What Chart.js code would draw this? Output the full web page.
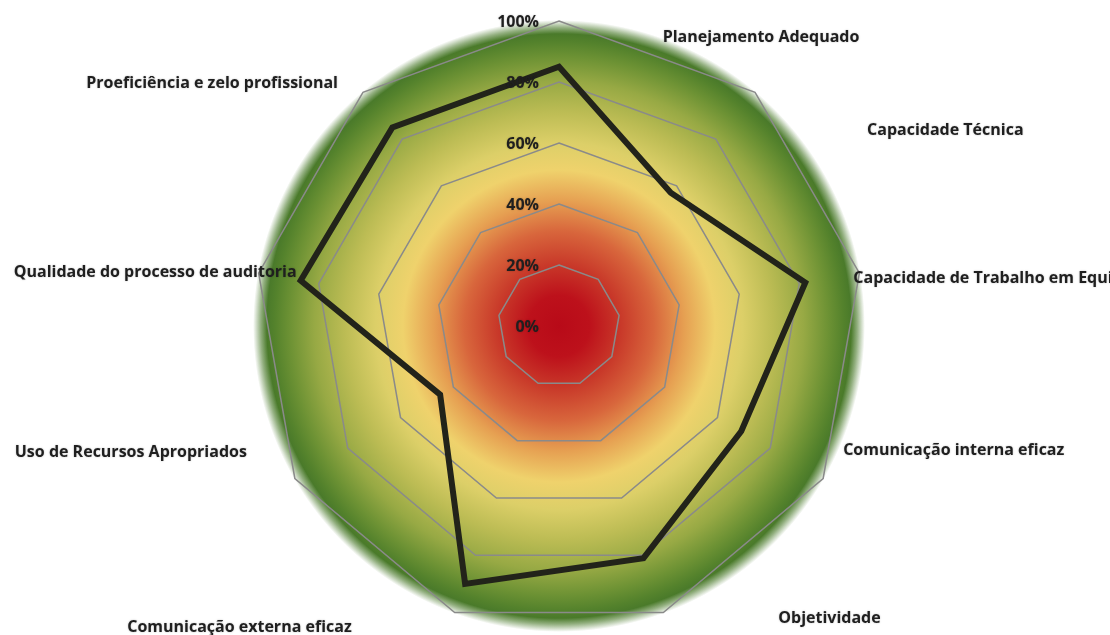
<!DOCTYPE html>
<html>
<head>
<meta charset="utf-8">
<script src="https://cdn.jsdelivr.net/npm/chart.js@4.4.1/dist/chart.umd.min.js"></script>
<style>
  html, body { margin: 0; padding: 0; background: #ffffff; }
  #wrap { width: 1110px; height: 635px; position: relative; overflow: hidden; }
</style>
</head>
<body>
<div id="wrap"><canvas id="radar" width="1110" height="635"></canvas></div>
<script>
// Competências avaliadas (sentido horário a partir do topo)
const categories = [
  'Planejamento Adequado',
  'Capacidade Técnica',
  'Capacidade de Trabalho em Equipe',
  'Comunicação interna eficaz',
  'Objetividade',
  'Comunicação externa eficaz',
  'Uso de Recursos Apropriados',
  'Qualidade do processo de auditoria',
  'Proeficiência e zelo profissional'
];

// Percentual atingido em cada competência
const scores = [85, 57, 82, 69, 81, 90, 45, 86, 85];

// Marcas do eixo radial
const tickValues = [0, 20, 40, 60, 80, 100];
const tickLabels = ['0%', '20%', '40%', '60%', '80%', '100%'];

// Posição de cada rótulo de categoria em relação ao vértice externo da grade
const labelPlacement = [
  { align: 'center', dx: 202, dy: 16 },
  { align: 'left',   dx: 112, dy: 38 },
  { align: 'left',   dx: -6,  dy: 5 },
  { align: 'left',   dx: 20,  dy: -28 },
  { align: 'left',   dx: 115, dy: 6 },
  { align: 'right',  dx: -103, dy: 15 },
  { align: 'right',  dx: -48, dy: -26 },
  { align: 'right',  dx: 38,  dy: -1 },
  { align: 'right',  dx: -25, dy: -9 }
];

const FONT = '"Open Sans", "DejaVu Sans", sans-serif';
const TEXT_COLOR = '#1f1f1f';

// Fundo em degradê radial: vermelho no centro, amarelo no meio, verde na borda
const heatBackdrop = {
  id: 'heatBackdrop',
  beforeDraw(chart) {
    const s = chart.scales.r;
    const ctx = chart.ctx;
    const R = s.drawingArea * 1.003;
    const g = ctx.createRadialGradient(s.xCenter, s.yCenter, 0, s.xCenter, s.yCenter, R);
    g.addColorStop(0.00, '#b80a18');
    g.addColorStop(0.10, '#bd111b');
    g.addColorStop(0.20, '#c83829');
    g.addColorStop(0.31, '#d8663c');
    g.addColorStop(0.41, '#e6a052');
    g.addColorStop(0.51, '#efd26c');
    g.addColorStop(0.60, '#dccf68');
    g.addColorStop(0.70, '#bcbc54');
    g.addColorStop(0.80, '#97a944');
    g.addColorStop(0.88, '#6d9234');
    g.addColorStop(0.93, '#54822c');
    g.addColorStop(0.955, '#4a7a2a');
    g.addColorStop(0.975, 'rgba(74,122,42,0.6)');
    g.addColorStop(1.00, 'rgba(74,122,42,0)');
    ctx.save();
    ctx.fillStyle = g;
    ctx.beginPath();
    ctx.arc(s.xCenter, s.yCenter, R, 0, Math.PI * 2);
    ctx.fill();
    ctx.restore();
  }
};

// Textos do eixo radial e das categorias
const axisText = {
  id: 'axisText',
  afterDatasetsDraw(chart) {
    const s = chart.scales.r;
    const ctx = chart.ctx;
    ctx.save();
    ctx.font = 'bold 16px ' + FONT;
    ctx.fillStyle = TEXT_COLOR;
    ctx.shadowColor = 'rgba(0,0,0,0.25)';
    ctx.shadowBlur = 2;
    ctx.textBaseline = 'middle';

    ctx.textAlign = 'right';
    tickValues.forEach((v, i) => {
      const d = s.getDistanceFromCenterForValue(v);
      ctx.fillText(tickLabels[i], s.xCenter - 20, s.yCenter - d + 1);
    });

    categories.forEach((name, i) => {
      const p = s.getPointPosition(i, s.drawingArea);
      const pl = labelPlacement[i];
      ctx.textAlign = pl.align;
      ctx.fillText(name, p.x + pl.dx, p.y + pl.dy);
    });
    ctx.restore();
  }
};

new Chart(document.getElementById('radar'), {
  type: 'radar',
  data: {
    labels: categories,
    datasets: [{
      label: 'Avaliação',
      data: scores,
      borderColor: '#22231a',
      borderWidth: 6,
      borderJoinStyle: 'miter',
      fill: false,
      pointRadius: 0,
      pointHoverRadius: 0,
      tension: 0
    }]
  },
  options: {
    responsive: false,
    animation: false,
    devicePixelRatio: 1,
    layout: { padding: { top: 21, bottom: 4, left: 254, right: 246 } },
    plugins: {
      legend: { display: false },
      tooltip: { enabled: false }
    },
    scales: {
      r: {
        min: 0,
        max: 100,
        ticks: { display: false, stepSize: 20 },
        grid: { color: '#8a8a8a', lineWidth: 1.5 },
        angleLines: { display: false },
        pointLabels: { display: false }
      }
    }
  },
  plugins: [heatBackdrop, axisText]
});
</script>
</body>
</html>
